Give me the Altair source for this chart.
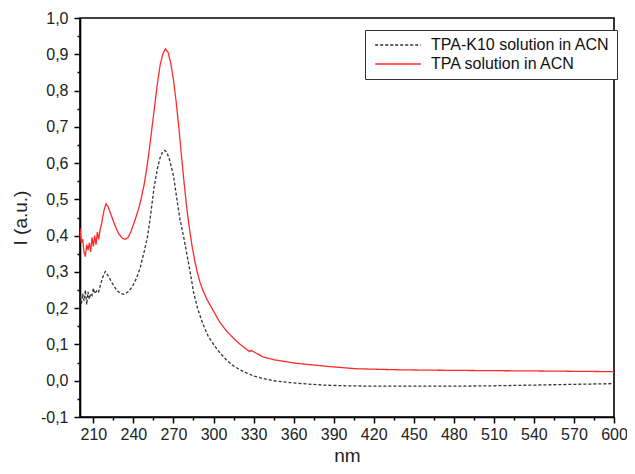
import altair as alt
import pandas as pd

# ---- data ----
series_names = ["TPA-K10 solution in ACN", "TPA solution in ACN"]

nm_k10 = [200, 201, 202, 203, 204, 205, 206, 207, 208, 209, 210, 211, 212, 213, 214, 215,
          217, 219, 221, 224, 227, 230, 233, 236, 239, 242, 245, 248, 250.6, 253, 255.5,
          258, 260, 262, 263.5, 265, 267, 270, 273, 275, 278, 280, 283, 285, 288, 292,
          296, 300, 305, 310, 315, 320, 325, 330, 337, 345, 357, 370, 382, 400, 420, 450,
          480, 510, 540, 570, 600]
i_k10 = [0.235, 0.21, 0.24, 0.22, 0.25, 0.21, 0.245, 0.225, 0.24, 0.235, 0.255, 0.24, 0.245,
         0.25, 0.245, 0.26, 0.285, 0.301, 0.29, 0.27, 0.252, 0.241, 0.238, 0.245, 0.258, 0.28,
         0.31, 0.355, 0.397, 0.46, 0.534, 0.585, 0.615, 0.632, 0.635, 0.63, 0.61, 0.565, 0.49,
         0.443, 0.39, 0.35, 0.29, 0.245, 0.2, 0.157, 0.123, 0.1, 0.076, 0.056, 0.041, 0.03,
         0.021, 0.013, 0.006, 0.0, -0.005, -0.009, -0.012, -0.014, -0.015, -0.015, -0.015,
         -0.014, -0.012, -0.01, -0.008]

nm_tpa = [200, 201, 202, 203, 204, 205, 206, 207, 208, 209, 210, 211, 212, 213, 214, 215,
          216, 218, 219.5, 221, 223, 226, 229, 232, 234, 236, 238, 240, 242, 244, 246, 248,
          250, 252, 254, 256, 258, 260, 262, 264, 266, 268, 270, 272, 274, 276, 278, 280,
          282, 284, 286, 288, 290, 292, 295, 298, 300, 303, 305, 310, 315, 320, 325, 327,
          328, 330, 337, 345, 362, 387, 407, 440, 466, 500, 540, 570, 600]
i_tpa = [0.42, 0.38, 0.39, 0.355, 0.342, 0.375, 0.36, 0.38, 0.355, 0.395, 0.37, 0.40, 0.375,
         0.41, 0.39, 0.415, 0.43, 0.47, 0.488, 0.48, 0.46, 0.43, 0.405, 0.392, 0.39, 0.395,
         0.41, 0.43, 0.452, 0.475, 0.505, 0.54, 0.585, 0.64, 0.70, 0.76, 0.82, 0.87, 0.90,
         0.915, 0.905, 0.875, 0.83, 0.77, 0.70, 0.62, 0.545, 0.475, 0.418, 0.37, 0.33, 0.297,
         0.27, 0.25, 0.225, 0.205, 0.192, 0.172, 0.16, 0.136, 0.117, 0.1, 0.086, 0.08, 0.084,
         0.08, 0.066, 0.058, 0.048, 0.039, 0.033, 0.03, 0.029, 0.028, 0.027, 0.026, 0.025]

x_major = [210, 240, 270, 300, 330, 360, 390, 420, 450, 480, 510, 540, 570, 600]
x_minor = [225, 255, 285, 315, 345, 375, 405, 435, 465, 495, 525, 555, 585]
y_major = [-0.1, 0.0, 0.1, 0.2, 0.3, 0.4, 0.5, 0.6, 0.7, 0.8, 0.9, 1.0]
y_minor = [-0.05, 0.05, 0.15, 0.25, 0.35, 0.45, 0.55, 0.65, 0.75, 0.85, 0.95]

rows = [{"nm": a, "I": b, "series": series_names[0]} for a, b in zip(nm_k10, i_k10)]
rows += [{"nm": a, "I": b, "series": series_names[1]} for a, b in zip(nm_tpa, i_tpa)]
df = pd.DataFrame(rows)

FONT = "Liberation Sans"
x_scale = alt.Scale(domain=[200, 600], nice=False, zero=False)
y_scale = alt.Scale(domain=[-0.1, 1.0], nice=False, zero=False)

label_expr = "replace(replace(format(datum.value, '.1f'), '.', ','), '\u2212', '-')"

common_axis = dict(domain=True, domainColor="black", domainWidth=1.6, tickColor="black",
                   tickWidth=1.5, grid=False, labelFont=FONT, labelFontSize=16,
                   labelColor="#222222", titleFont=FONT, titleFontSize=19,
                   titleFontWeight="normal", titleColor="#222222", labelFlush=False)

legend = alt.Legend(title=None, orient="none", legendX=285, legendY=12,
                    strokeColor="#333333", fillColor="white", padding=7,
                    labelFont=FONT, labelFontSize=16, labelColor="#111111", labelLimit=400,
                    symbolType="M-4,0H4", symbolSize=130, symbolStrokeWidth=1.3,
                    symbolOffset=18, rowPadding=3, labelOffset=25, cornerRadius=0)

lines = alt.Chart(df).mark_line(strokeWidth=1.3, clip=True).encode(
    x=alt.X("nm:Q", scale=x_scale,
            axis=alt.Axis(values=x_major, title="nm", orient="bottom", tickSize=6,
                          labelPadding=3, titlePadding=4, format="d", **common_axis)),
    y=alt.Y("I:Q", scale=y_scale,
            axis=alt.Axis(values=y_major, title="I (a.u.)", orient="left", tickSize=6,
                          labelPadding=6, titlePadding=10, labelExpr=label_expr,
                          **common_axis)),
    color=alt.Color("series:N", sort=series_names,
                    scale=alt.Scale(domain=series_names, range=["#333333", "#ff2b2b"]),
                    legend=legend),
    strokeDash=alt.StrokeDash("series:N", sort=series_names,
                              scale=alt.Scale(domain=series_names, range=[[3, 2], [1, 0]]),
                              legend=legend),
    order=alt.Order("nm:Q"),
)

dummy = pd.DataFrame({"nm": [400], "I": [0.5]})
minor = alt.Chart(dummy).mark_point(opacity=0).encode(
    x=alt.X("nm:Q", scale=x_scale,
            axis=alt.Axis(values=x_minor, title=None, orient="bottom", labels=False,
                          domain=False, tickSize=3, tickColor="black", tickWidth=1.5,
                          grid=False)),
    y=alt.Y("I:Q", scale=y_scale,
            axis=alt.Axis(values=y_minor, title=None, orient="left", labels=False,
                          domain=False, tickSize=3, tickColor="black", tickWidth=1.5,
                          grid=False)),
)

chart = alt.layer(lines, minor).resolve_axis(x="independent", y="independent").properties(
    width=534, height=399,
    autosize=alt.AutoSizeParams(type="none"),
    padding={"left": 72, "top": 10, "right": 13, "bottom": 49},
).configure_view(stroke="black", strokeWidth=1.6)

chart.save("out.html", embed_options={"renderer": "svg", "actions": False})
